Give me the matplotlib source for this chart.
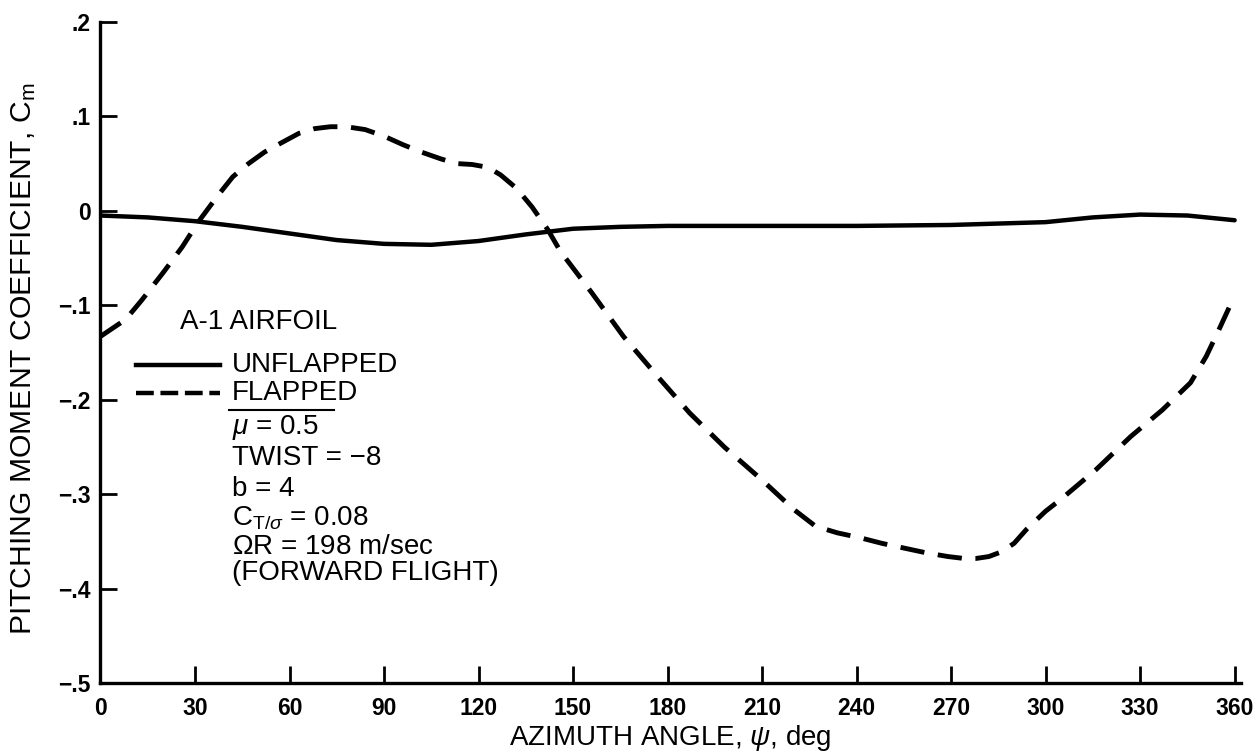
import numpy as np
import matplotlib.pyplot as plt
from matplotlib.lines import Line2D

plt.rcParams['font.family'] = ['Liberation Sans', 'DejaVu Sans']
plt.rcParams['mathtext.fontset'] = 'custom'
plt.rcParams['mathtext.rm'] = 'Liberation Sans'
plt.rcParams['mathtext.it'] = 'Liberation Sans:italic'

# azimuth angle (deg) and pitching moment coefficient
psi_unflapped = [0, 15, 30, 45, 60, 75, 90, 105, 120, 135, 150, 165, 180, 210,
                 240, 270, 300, 315, 330, 345, 360]
cm_unflapped = [-0.005, -0.007, -0.011, -0.017, -0.024, -0.031, -0.035, -0.036,
                -0.032, -0.025, -0.019, -0.017, -0.016, -0.016, -0.016, -0.015,
                -0.012, -0.007, -0.004, -0.005, -0.010]

psi_flapped = [0, 8, 13, 20, 26, 31, 37, 42, 47, 52, 58, 63, 68, 73, 78, 84,
               90, 96, 102, 108, 113, 118, 123, 127, 132, 137, 142, 146, 156,
               166, 177, 187, 198, 210, 220, 227, 234, 241, 248, 255, 262, 269,
               274, 278, 282, 286, 290, 294, 300, 305, 316, 327, 337, 346, 351,
               355, 359]
cm_flapped = [-0.133, -0.115, -0.095, -0.065, -0.038, -0.012, 0.015, 0.036,
              0.05, 0.062, 0.073, 0.082, 0.087, 0.089, 0.089, 0.086, 0.079,
              0.07, 0.062, 0.055, 0.05, 0.049, 0.046, 0.038, 0.024, 0.004,
              -0.020, -0.043, -0.087, -0.133, -0.176, -0.214, -0.250, -0.285,
              -0.316, -0.334, -0.341, -0.346, -0.352, -0.357, -0.362, -0.366,
              -0.368, -0.368, -0.366, -0.361, -0.352, -0.337, -0.318, -0.305,
              -0.274, -0.239, -0.211, -0.182, -0.154, -0.126, -0.097]

xticks = np.arange(0, 361, 30)
yticks = [0.2, 0.1, 0, -0.1, -0.2, -0.3, -0.4, -0.5]
ytick_labels = ['.2', '.1', '0', '\u2212.1', '\u2212.2', '\u2212.3', '\u2212.4', '\u2212.5']

fig = plt.figure(figsize=(12.56, 7.54), dpi=100)
ax = fig.add_axes([0.080, 0.094, 0.908, 0.877])

ax.plot(psi_unflapped, cm_unflapped, color='black', lw=3.2, solid_capstyle='round')
ax.plot(psi_flapped, cm_flapped, color='black', lw=3.5, dashes=(5, 2.8))

ax.set_xlim(0, 362)
ax.set_ylim(-0.5, 0.2)
ax.set_xticks(xticks)
ax.set_yticks(yticks)
ax.set_yticklabels(ytick_labels)
for s in ['top', 'right']:
    ax.spines[s].set_visible(False)
for s in ['left', 'bottom']:
    ax.spines[s].set_linewidth(2.4)
ax.tick_params(direction='in', length=12, width=2, labelsize=16.5)
ax.tick_params(axis='x', pad=10)
ax.tick_params(axis='y', pad=7)
for lab in ax.get_xticklabels() + ax.get_yticklabels():
    lab.set_fontweight('bold')

ax.set_xlabel('AZIMUTH ANGLE, $\\psi$, deg', fontsize=20, labelpad=2)
ax.set_ylabel('PITCHING MOMENT COEFFICIENT, C$_{\\mathrm{m}}$', fontsize=21.7, labelpad=9)
ax.yaxis.set_label_coords(-0.055, 0.49)

# legend block
fs = 20
ax.text(0.070, 0.546, 'A-1 AIRFOIL', transform=ax.transAxes, fontsize=fs,
        va='center', ha='left')
ax.add_line(Line2D([0.031, 0.105], [0.481, 0.481], transform=ax.transAxes,
                   color='black', lw=3.2))
ax.add_line(Line2D([0.031, 0.105], [0.439, 0.439], transform=ax.transAxes,
                   color='black', lw=3.2, dashes=(4, 1.5)))
ax.text(0.115, 0.481, 'UNFLAPPED', transform=ax.transAxes, fontsize=fs, va='center')
ax.text(0.115, 0.439, 'FLAPPED', transform=ax.transAxes, fontsize=fs, va='center')
ax.add_line(Line2D([0.113, 0.205], [0.413, 0.413], transform=ax.transAxes,
                   color='black', lw=1.5))
params = ['$\\mu$ = 0.5', 'TWIST = \u22128', 'b = 4',
          'C$_{\\mathrm{T}/\\sigma}$ = 0.08', '$\\Omega$R = 198 m/sec',
          '(FORWARD FLIGHT)']
ypos = [0.386, 0.340, 0.294, 0.250, 0.206, 0.166]
for t, yy in zip(params, ypos):
    ax.text(0.115, yy, t, transform=ax.transAxes, fontsize=fs, va='center')

fig.savefig('out.png', dpi=100)
